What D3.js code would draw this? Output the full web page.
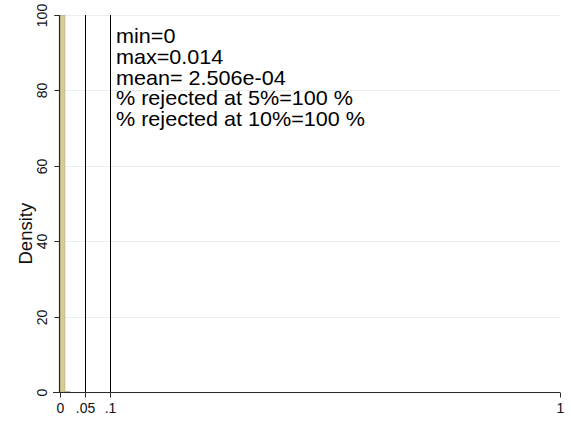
<!DOCTYPE html>
<html>
<head>
<meta charset="utf-8">
<script src="https://cdn.jsdelivr.net/npm/d3@7"></script>
<style>
  html, body { margin: 0; padding: 0; background: #fff; }
  svg { display: block; font-family: Arial, "Liberation Sans", sans-serif; }
</style>
</head>
<body>
<svg id="chart" width="571" height="423"></svg>
<script>
// Histogram of p-values (density scale)
const binStart = [0, 0.01];
const binEnd = [0.01, 0.02];
const binDensity = [99.9, 0.1];

// Reference lines at the 5% and 10% levels
const refLines = [0.05, 0.1];

// Axis ticks
const xTicks = [0, 0.05, 0.1, 1];
const xTickLabels = ["0", ".05", ".1", "1"];
const yTicks = [0, 20, 40, 60, 80, 100];

// Summary text
const summaryLines = [
  "min=0",
  "max=0.014",
  "mean= 2.506e-04",
  "% rejected at 5%=100 %",
  "% rejected at 10%=100 %"
];

const svg = d3.select("#chart");
const x = d3.scaleLinear().domain([0, 1]).range([60, 560]);
const y = d3.scaleLinear().domain([0, 100]).range([392, 15]);
const px = v => Math.round(v) + 0.5;

// horizontal grid
svg.append("g")
  .selectAll("line")
  .data(yTicks.filter(d => d > 0))
  .join("line")
  .attr("x1", x(0)).attr("x2", x(1))
  .attr("y1", d => px(y(d))).attr("y2", d => px(y(d)))
  .attr("stroke", "#e6eef1").attr("stroke-width", 1);

// bars
const bins = binStart.map((s, i) => ({ x0: s, x1: binEnd[i], d: binDensity[i] }));
svg.append("g")
  .selectAll("rect")
  .data(bins)
  .join("rect")
  .attr("x", d => x(d.x0))
  .attr("width", d => x(d.x1) - x(d.x0))
  .attr("y", d => y(d.d))
  .attr("height", d => y(0) - y(d.d))
  .attr("fill", "#d6cd92")
  .attr("stroke", "#9a9472")
  .attr("stroke-width", 0.4);

// reference lines
svg.append("g")
  .selectAll("line")
  .data(refLines)
  .join("line")
  .attr("x1", d => px(x(d))).attr("x2", d => px(x(d)))
  .attr("y1", y(100)).attr("y2", y(0))
  .attr("stroke", "#000").attr("stroke-width", 1);

// y axis
const yAxis = d3.axisLeft(y).tickValues(yTicks).tickSize(5).tickFormat(d3.format("d")).offset(0);
const gy = svg.append("g").attr("transform", `translate(${x(0) - 0.5},0)`).call(yAxis);
gy.attr("font-family", null).attr("font-size", null);
gy.select(".domain").attr("stroke", "#2a2a2a").attr("stroke-width", 1.2)
  .attr("d", `M-5,${px(y(100))}H0V${y(0)}`);
gy.selectAll(".tick").attr("transform", d => `translate(0,${px(y(d))})`);
gy.selectAll(".tick line").attr("stroke", "#2a2a2a");
gy.selectAll(".tick text")
  .style("font-size", "14px")
  .attr("fill", "#111")
  .attr("transform", "rotate(-90)")
  .attr("x", 0).attr("y", -13)
  .attr("dy", 0)
  .attr("text-anchor", "middle");

// x axis
const xAxis = d3.axisBottom(x).tickValues(xTicks).tickSize(5)
  .tickFormat((d, i) => xTickLabels[i]).offset(0);
const gx = svg.append("g").attr("transform", `translate(0,${px(y(0))})`).call(xAxis);
gx.attr("font-family", null).attr("font-size", null);
gx.select(".domain").attr("stroke", "#2a2a2a").attr("stroke-width", 1.2)
  .attr("d", `M${x(0) - 7},0H${x(1)}`);
gx.selectAll(".tick").attr("transform", d => `translate(${px(x(d))},0)`);
gx.selectAll(".tick line").attr("stroke", "#2a2a2a");
gx.selectAll(".tick text")
  .style("font-size", "14px")
  .attr("fill", "#111")
  .attr("y", 11).attr("dy", "0.71em");

// y title
svg.append("text")
  .attr("transform", `translate(32,${y(42)}) rotate(-90)`)
  .attr("text-anchor", "middle")
  .style("font-size", "18.5px")
  .attr("fill", "#111")
  .text("Density");

// summary text
svg.append("g")
  .attr("transform", "translate(116,0) scale(1.08,1)")
  .selectAll("text")
  .data(summaryLines)
  .join("text")
  .attr("x", 0)
  .attr("y", (d, i) => 43.5 + i * 20.6)
  .style("font-size", "20px")
  .attr("fill", "#000")
  .text(d => d);
</script>
</body>
</html>
